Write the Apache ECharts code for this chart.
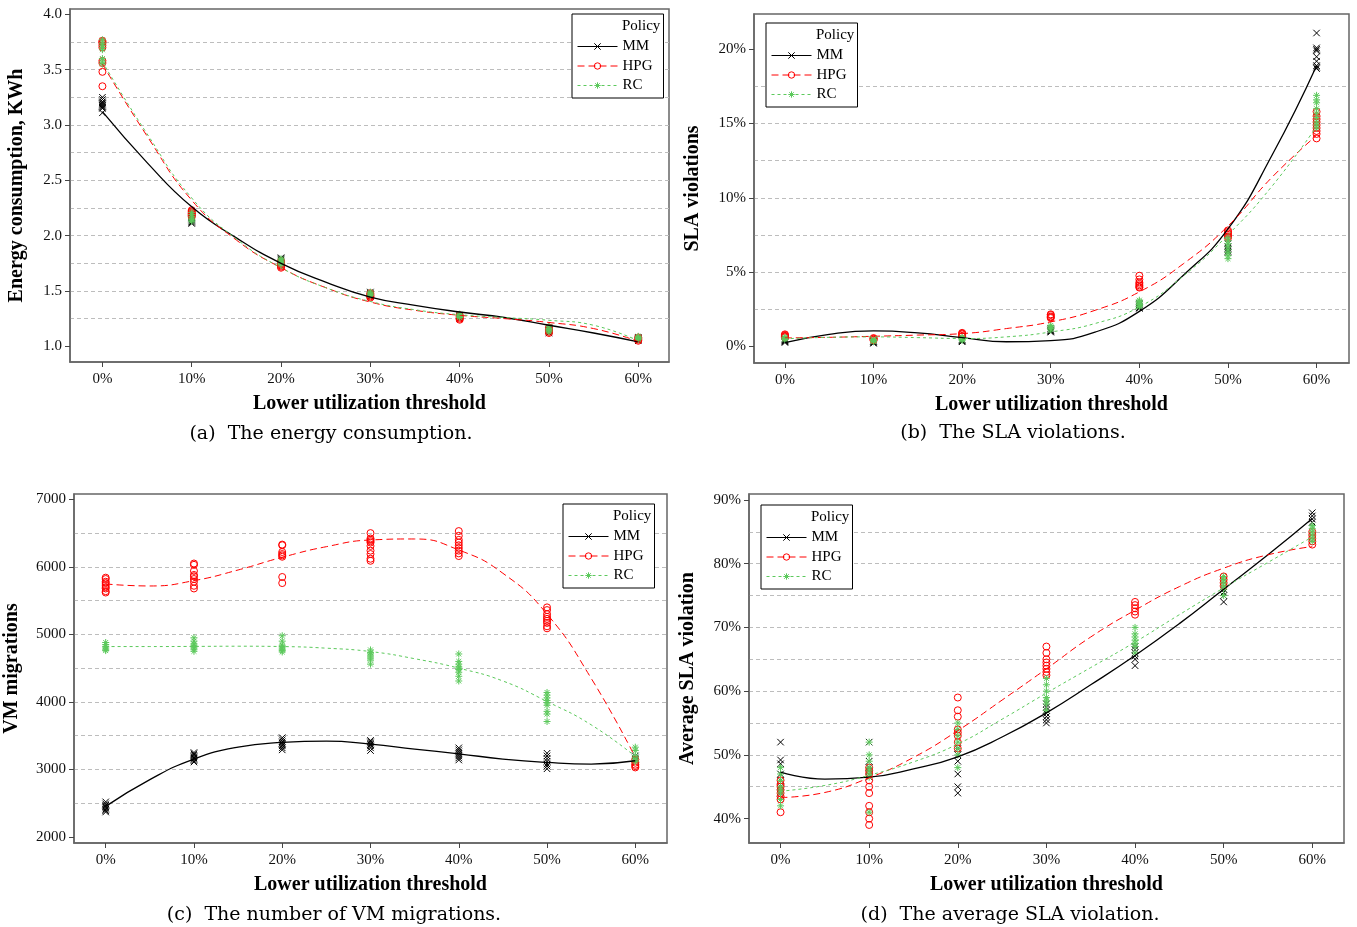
<!DOCTYPE html>
<html>
<head>
<meta charset="utf-8">
<script src="https://cdn.jsdelivr.net/npm/echarts@6/dist/echarts.min.js"></script>
<style>html,body{margin:0;padding:0;background:#fff}#c{width:1357px;height:927px}</style>
</head>
<body>
<div id="c"></div>
<script>
// ---------- data ----------
const policies = ['MM', 'HPG', 'RC'];
const thresholds = [0, 10, 20, 30, 40, 50, 60];
const fitX = [0, 5, 10, 15, 20, 25, 30, 35, 40, 45, 50, 55, 60];
const xTickValues = [0, 10, 20, 30, 40, 50, 60];

// (a) energy consumption, KWh
const energyTicks = [1.0, 1.5, 2.0, 2.5, 3.0, 3.5, 4.0];
const energyMM = [
  [3.25, 3.23, 3.21, 3.20, 3.19, 3.18, 3.17, 3.16, 3.15, 3.11],
  [2.17, 2.16, 2.15, 2.14, 2.13, 2.12, 2.11],
  [1.80, 1.79, 1.78, 1.77, 1.76, 1.75],
  [1.49, 1.48, 1.47, 1.46, 1.45],
  [1.28, 1.27, 1.26, 1.25],
  [1.17, 1.15, 1.14, 1.13, 1.12],
  [1.08, 1.07, 1.06, 1.05]
];
const energyHPG = [
  [3.76, 3.75, 3.74, 3.72, 3.70, 3.58, 3.56, 3.48, 3.35],
  [2.23, 2.22, 2.21, 2.20, 2.19, 2.18, 2.17],
  [1.77, 1.75, 1.74, 1.73, 1.72, 1.71],
  [1.48, 1.47, 1.46, 1.45, 1.44],
  [1.28, 1.27, 1.26, 1.25, 1.24],
  [1.17, 1.15, 1.14, 1.13, 1.12],
  [1.08, 1.07, 1.06, 1.05]
];
const energyRC = [
  [3.77, 3.74, 3.72, 3.70, 3.68, 3.60, 3.57, 3.55],
  [2.21, 2.19, 2.17, 2.15, 2.14, 2.13],
  [1.79, 1.78, 1.77, 1.76, 1.75, 1.74],
  [1.49, 1.48, 1.47, 1.46],
  [1.29, 1.28, 1.27, 1.26],
  [1.18, 1.16, 1.15, 1.14, 1.13],
  [1.09, 1.08, 1.07, 1.06]
];
const energyMMFit  = [3.12, 2.66, 2.26, 1.98, 1.75, 1.58, 1.445, 1.37, 1.31, 1.26, 1.19, 1.12, 1.04];
const energyHPGFit = [3.55, 2.90, 2.32, 1.96, 1.71, 1.53, 1.40, 1.325, 1.28, 1.25, 1.215, 1.16, 1.045];
const energyRCFit  = [3.57, 2.92, 2.34, 1.97, 1.71, 1.53, 1.405, 1.33, 1.285, 1.26, 1.235, 1.19, 1.05];

// (b) SLA violations, %
const slaTicks = [0, 5, 10, 15, 20];
const slaMM = [
  [0.5, 0.45, 0.4, 0.35, 0.3, 0.25],
  [0.35, 0.3, 0.25, 0.2],
  [0.45, 0.4, 0.35, 0.3],
  [1.2, 1.1, 1.05, 1.0, 0.95],
  [2.9, 2.8, 2.7, 2.6, 2.55],
  [6.9, 6.7, 6.6, 6.5, 6.4, 6.3],
  [21.1, 20.1, 20.0, 19.9, 19.5, 19.2, 18.9, 18.8, 18.7]
];
const slaHPG = [
  [0.8, 0.75, 0.7, 0.65, 0.6],
  [0.55, 0.5, 0.45, 0.4],
  [0.9, 0.85, 0.8, 0.7, 0.65],
  [2.15, 2.1, 2.0, 1.95, 1.9],
  [4.75, 4.5, 4.3, 4.2, 4.1, 4.0, 3.95],
  [7.8, 7.7, 7.6, 7.5, 7.4, 7.3],
  [15.8, 15.5, 15.3, 15.1, 14.9, 14.7, 14.5, 14.3, 14.0]
];
const slaRC = [
  [0.6, 0.55, 0.5, 0.45],
  [0.45, 0.4, 0.35, 0.3],
  [0.6, 0.55, 0.5, 0.45, 0.4],
  [1.4, 1.3, 1.2, 1.1],
  [3.1, 3.0, 2.9, 2.8, 2.7, 2.65],
  [7.3, 7.1, 6.9, 6.7, 6.5, 6.3, 6.1, 5.9],
  [16.9, 16.6, 16.4, 16.0, 15.7, 15.4, 15.1, 14.9, 14.7]
];
const slaMMFit  = [0.25, 0.8, 1.03, 0.9, 0.58, 0.3, 0.38, 0.95, 2.35, 4.8, 7.9, 12.9, 18.9];
const slaHPGFit = [0.56, 0.6, 0.67, 0.75, 0.85, 1.19, 1.64, 2.42, 3.66, 5.57, 8.1, 11.4, 14.2];
const slaRCFit  = [0.5, 0.6, 0.63, 0.58, 0.52, 0.63, 0.96, 1.53, 2.65, 4.75, 7.5, 10.8, 14.8];

// (c) VM migrations
const migTicks = [2000, 3000, 4000, 5000, 6000, 7000];
const migMM = [
  [2520, 2490, 2470, 2450, 2430, 2410, 2390, 2370],
  [3250, 3230, 3210, 3190, 3170, 3150, 3130, 3110],
  [3470, 3440, 3410, 3390, 3370, 3350, 3320, 3290],
  [3430, 3410, 3390, 3370, 3350, 3320, 3280],
  [3320, 3290, 3260, 3230, 3200, 3170, 3140],
  [3240, 3200, 3160, 3120, 3080, 3050, 3010],
  [3200, 3170, 3150, 3120]
];
const migHPG = [
  [5840, 5820, 5780, 5760, 5730, 5700, 5680, 5640, 5620],
  [6050, 6030, 5940, 5880, 5860, 5820, 5780, 5720, 5680],
  [6330, 6320, 6220, 6190, 6170, 6150, 5850, 5760],
  [6500, 6420, 6400, 6380, 6360, 6310, 6240, 6190, 6120, 6090],
  [6530, 6460, 6400, 6360, 6320, 6280, 6240, 6200, 6160],
  [5400, 5360, 5300, 5260, 5230, 5200, 5170, 5120, 5090],
  [3150, 3100, 3070, 3050, 3030]
];
const migRC = [
  [4880, 4850, 4820, 4800, 4780, 4760],
  [4950, 4900, 4860, 4840, 4820, 4800, 4780, 4750],
  [4980, 4900, 4840, 4820, 4800, 4780, 4760, 4740],
  [4770, 4730, 4710, 4680, 4650, 4620, 4560],
  [4710, 4600, 4560, 4520, 4500, 4480, 4440, 4380, 4310],
  [4140, 4100, 4060, 4020, 3990, 3950, 3860, 3820, 3710],
  [3330, 3280, 3200, 3170, 3140, 3120]
];
const migMMFit  = [2453, 2850, 3154, 3331, 3400, 3420, 3376, 3302, 3232, 3154, 3104, 3080, 3129];
const migHPGFit = [5747, 5717, 5796, 5954, 6142, 6299, 6398, 6413, 6250, 5905, 5300, 4350, 3180];
const migRCFit  = [4820, 4820, 4822, 4825, 4820, 4796, 4746, 4640, 4500, 4310, 4006, 3661, 3193];

// (d) average SLA violation, %
const avgTicks = [40, 50, 60, 70, 80, 90];
const avgMM = [
  [52, 49.2, 48.6, 47, 46, 45, 44],
  [52, 49, 48, 47.5, 47, 46.5],
  [51, 50, 49, 47, 45, 44],
  [58, 57.5, 57, 56.5, 56, 55.5, 55],
  [67, 66.5, 66, 65.5, 65, 64],
  [76, 75.5, 75, 74],
  [88, 87.5, 87, 86.5]
];
const avgHPG = [
  [46, 45.3, 45, 44.5, 44, 43.5, 43, 41],
  [48, 47.5, 47, 46, 45, 44, 42, 41, 40, 39],
  [59, 57, 56, 54, 53.5, 53, 52, 51],
  [67, 66, 65, 64.5, 64, 63.5, 63, 62.5],
  [74, 73.5, 73, 72.5, 72],
  [78, 77.5, 77, 76.5],
  [85, 84.5, 84, 83.5, 83]
];
const avgRC = [
  [48, 47, 46, 45, 44.5, 44, 43, 42],
  [52, 50, 49, 48, 47.5, 47, 46.5, 41],
  [55, 54, 53, 52, 51, 50, 48],
  [62, 61, 60, 59, 58.5, 58, 57],
  [70, 69, 68.5, 68, 67.5, 67, 66],
  [78, 77.5, 77, 76.5, 76, 75],
  [86, 85.5, 85, 84.5, 84, 83.5]
];
const avgMMFit  = [47.3, 46.2, 46.5, 47.8, 49.7, 52.8, 56.6, 61.0, 65.6, 70.6, 76.0, 81.4, 87.1];
const avgHPGFit = [43.3, 44.1, 46.4, 49.6, 53.8, 58.6, 63.5, 68.5, 72.7, 76.4, 79.3, 81.4, 82.7];
const avgRCFit  = [44.3, 45.2, 46.8, 48.9, 51.7, 55.6, 59.7, 63.7, 67.7, 72.0, 76.2, 80.2, 84.2];

// ---------- styling ----------
const SERIF = '"Liberation Serif", "Times New Roman", serif';
const CAPTION_FONT = '19px "DejaVu Serif", serif';
const COLORS = { MM: '#000000', HPG: '#ff0000', RC: '#5cc95c' };
const SYMBOLS = {
  MM: 'path://M0,0L8,8M8,0L0,8',
  HPG: 'circle',
  RC: 'path://M4,0L4,8M0,4L8,4M1.2,1.2L6.8,6.8M1.2,6.8L6.8,1.2'
};
const SYMBOL_SIZE = { MM: 6.5, HPG: 7, RC: 7 };
const LINE_TYPES = { MM: 'solid', HPG: [7, 4], RC: [3, 3] };
const LINE_WIDTH = { MM: 1.3, HPG: 1, RC: 1 };
const GRID_COLOR = '#bdbdbd';
const BORDER_COLOR = '#666';

const panels = [
  {
    grid: { left: 70, top: 9, width: 599, height: 353 },
    xr: [-3.63, 63.44], yr: [0.858, 4.048], ySplit: 6, yTicks: energyTicks,
    yFmt: v => Number(v).toFixed(1), yName: 'Energy consumption, KWh', yGap: 43,
    pts: { MM: energyMM, HPG: energyHPG, RC: energyRC },
    fit: { MM: energyMMFit, HPG: energyHPGFit, RC: energyRCFit },
    legend: [572, 14], caption: '(a)  The energy consumption.', cap: [331, 434]
  },
  {
    grid: { left: 754, top: 14, width: 595, height: 349 },
    xr: [-3.49, 63.66], yr: [-1.13, 22.38], ySplit: 5, yTicks: slaTicks,
    yFmt: v => v + '%', yName: 'SLA violations', yGap: 51,
    pts: { MM: slaMM, HPG: slaHPG, RC: slaRC },
    fit: { MM: slaMMFit, HPG: slaHPGFit, RC: slaRCFit },
    legend: [766, 23], caption: '(b)  The SLA violations.', cap: [1013, 433]
  },
  {
    grid: { left: 74, top: 494, width: 593, height: 349 },
    xr: [-3.59, 63.59], yr: [1911, 7079], ySplit: 5, yTicks: migTicks,
    yFmt: v => String(v), yName: 'VM migrations', yGap: 52,
    pts: { MM: migMM, HPG: migHPG, RC: migRC },
    fit: { MM: migMMFit, HPG: migHPGFit, RC: migRCFit },
    legend: [563, 504], caption: '(c)  The number of VM migrations.', cap: [334, 915]
  },
  {
    grid: { left: 749, top: 494, width: 595, height: 349 },
    xr: [-3.56, 63.58], yr: [36.17, 90.94], ySplit: 5, yTicks: avgTicks,
    yFmt: v => v + '%', yName: 'Average SLA violation', yGap: 51,
    pts: { MM: avgMM, HPG: avgHPG, RC: avgRC },
    fit: { MM: avgMMFit, HPG: avgHPGFit, RC: avgRCFit },
    legend: [761, 505], caption: '(d)  The average SLA violation.', cap: [1010, 915]
  }
];

const dashed = { color: GRID_COLOR, type: [4, 3], width: 1 };

const grids = [], xAxes = [], yAxes = [], series = [], legends = [], graphics = [];

panels.forEach((p, gi) => {
  grids.push(Object.assign({ show: true, borderColor: BORDER_COLOR, borderWidth: 1.5, backgroundColor: '#fff' }, p.grid));
  xAxes.push({
    type: 'value', gridIndex: gi, min: p.xr[0], max: p.xr[1], splitNumber: 7,
    name: 'Lower utilization threshold', nameLocation: 'middle', nameGap: 32,
    nameTextStyle: { fontFamily: SERIF, fontWeight: 'bold', fontSize: 20, color: '#000' },
    axisLine: { show: true, onZero: false, lineStyle: { color: BORDER_COLOR, width: 1.5 } },
    axisTick: { show: true, length: 5, customValues: xTickValues, lineStyle: { color: '#444' } },
    axisLabel: { customValues: xTickValues, formatter: v => v + '%', fontFamily: SERIF, fontSize: 15, color: '#111', margin: 10 },
    splitLine: { show: false }
  });
  yAxes.push({
    type: 'value', gridIndex: gi, min: p.yr[0], max: p.yr[1], splitNumber: p.ySplit,
    name: p.yName, nameLocation: 'middle', nameGap: p.yGap,
    nameTextStyle: { fontFamily: SERIF, fontWeight: 'bold', fontSize: 20, color: '#000' },
    axisLine: { show: true, onZero: false, lineStyle: { color: BORDER_COLOR, width: 1.5 } },
    axisTick: { show: true, length: 5, customValues: p.yTicks, lineStyle: { color: '#444' } },
    axisLabel: { customValues: p.yTicks, formatter: p.yFmt, fontFamily: SERIF, fontSize: 15, color: '#111', margin: 8 },
    splitLine: { show: true, showMinLine: false, showMaxLine: false, lineStyle: dashed },
    minorTick: { show: false, splitNumber: 2 },
    minorSplitLine: { show: true, lineStyle: dashed }
  });

  policies.forEach(name => {
    series.push({
      type: 'line', name, xAxisIndex: gi, yAxisIndex: gi, z: 3,
      data: fitX.map((x, i) => [x, p.fit[name][i]]),
      smooth: 0.5, showSymbol: false, symbol: SYMBOLS[name], symbolSize: SYMBOL_SIZE[name],
      lineStyle: { color: COLORS[name], width: LINE_WIDTH[name], type: LINE_TYPES[name] },
      itemStyle: { color: COLORS[name] },
      silent: true
    });
  });
  policies.forEach(name => {
    const data = [];
    thresholds.forEach((t, k) => p.pts[name][k].forEach(v => data.push([t, v])));
    series.push({
      type: 'scatter', name, xAxisIndex: gi, yAxisIndex: gi, z: 2,
      data, symbol: SYMBOLS[name], symbolSize: SYMBOL_SIZE[name],
      itemStyle: { color: 'rgba(0,0,0,0)', borderColor: COLORS[name], borderWidth: 1, opacity: 1 },
      silent: true
    });
  });

  legends.push({
    left: p.legend[0], top: p.legend[1], orient: 'vertical',
    padding: [25, 11, 5, 5], itemWidth: 40, itemHeight: 8, itemGap: 4.5,
    selectedMode: false, borderColor: '#000', borderWidth: 1, backgroundColor: '#fff',
    textStyle: { fontFamily: SERIF, fontSize: 15, color: '#000', lineHeight: 15 },
    data: policies.map(name => ({
      name,
      itemStyle: { color: 'rgba(0,0,0,0)', borderColor: COLORS[name], borderWidth: 1 },
      lineStyle: { color: COLORS[name], width: 1, type: LINE_TYPES[name] }
    }))
  });

  graphics.push({
    type: 'text', x: p.legend[0] + 50, y: p.legend[1] + 12, z: 100,
    style: { text: 'Policy', font: '15px ' + SERIF, fill: '#000', align: 'left', verticalAlign: 'middle' }
  });
  graphics.push({
    type: 'text', x: p.cap[0], y: p.cap[1], z: 100,
    style: { text: p.caption, font: CAPTION_FONT, fill: '#000', align: 'center', verticalAlign: 'middle' }
  });
});

const chart = echarts.init(document.getElementById('c'), null, { renderer: 'canvas' });
chart.setOption({
  animation: false,
  backgroundColor: '#fff',
  grid: grids,
  xAxis: xAxes,
  yAxis: yAxes,
  legend: legends,
  series,
  graphic: graphics
});
</script>
</body>
</html>
